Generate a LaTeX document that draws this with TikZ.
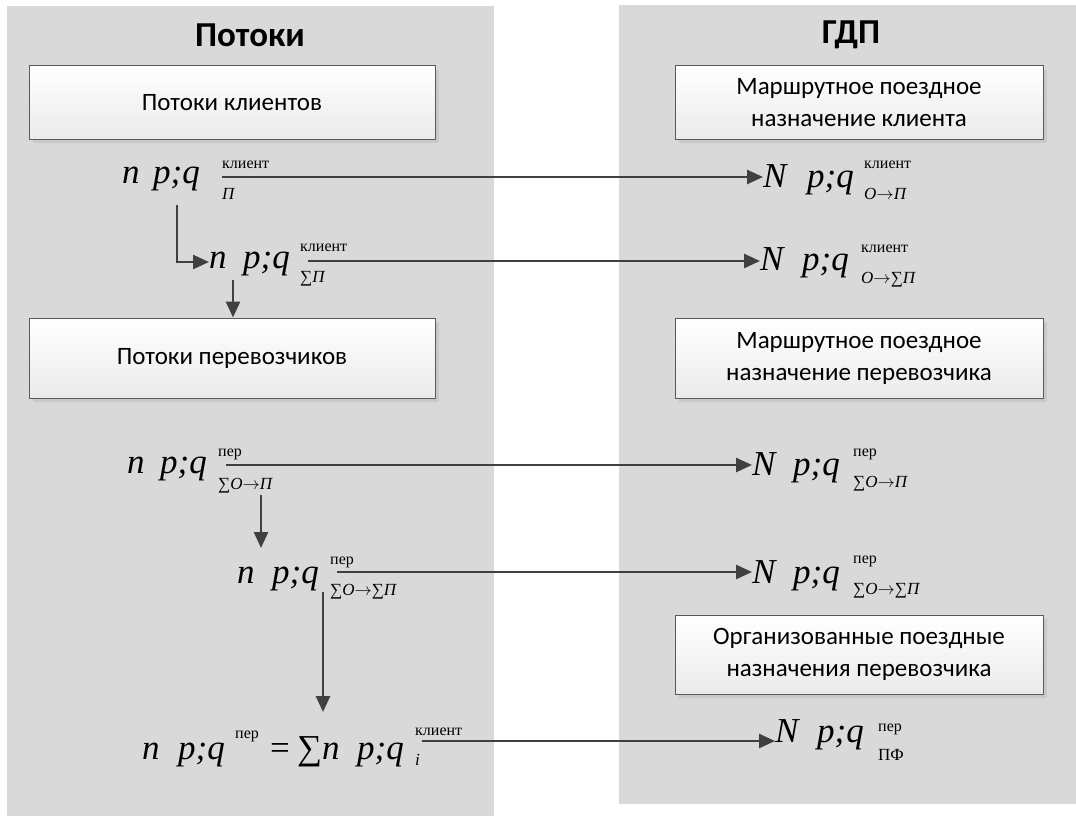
\documentclass[tikz,border=0pt]{standalone}
\usepackage{fontspec}
\setmainfont{Liberation Serif}
\newfontfamily\calibri{Carlito}
\usetikzlibrary{arrows.meta}
\definecolor{panel}{HTML}{D9D9D9}
\definecolor{arrowc}{HTML}{404040}
\definecolor{boxline}{HTML}{595959}
\definecolor{shadowc}{HTML}{C8C8C8}
\newcommand\mi{\fontsize{35}{35}\selectfont\itshape}
\newcommand\scfont{\fontsize{16}{16}\selectfont}
\newcommand\sbfont{\fontsize{17}{17}\selectfont}
\newcommand\ar{\upshape$\rightarrow$}
\newcommand\scr[4]{\rlap{\smash{\raisebox{#1pt}{\scfont\upshape #2}}}\rlap{\smash{\raisebox{#3pt}{\sbfont #4}}}}
\begin{document}
\begin{tikzpicture}[x=1pt,y=-1pt,
  fm/.style={anchor=base west, inner sep=0pt, font=\mi},
  box/.style={draw=boxline, line width=1pt, top color=white, bottom color=black!8,
    preaction={fill=shadowc, transform canvas={shift={(4pt,-4pt)}}},
    align=center, font=\calibri\fontsize{25}{32}\selectfont, inner sep=0pt},
  lbox/.style={box, minimum width=406pt},
  rbox/.style={box, minimum width=368pt},
  title/.style={font=\calibri\bfseries\fontsize{35}{40}\selectfont, inner sep=0pt},
  arr/.style={draw=arrowc, line width=2.6pt, -{Triangle[length=16pt,width=14pt]}}]
\useasboundingbox (0,0) rectangle (1076,816);
% panels
\fill[panel] (7,6) rectangle (494,816);
\fill[panel] (619,5) rectangle (1076,804);
% titles
\node[title] (T1) at (250,35) {Потоки};
\node[title] (T2) at (851,35) {ГДП};
% boxes
\node[lbox, minimum height=73pt] (B1) at (232,102.5) {Потоки клиентов};
\node[lbox, minimum height=80pt] (B2) at (232,358) {Потоки перевозчиков};
\node[rbox, minimum height=73pt] (C1) at (859,102.5) {Маршрутное поездное\\назначение клиента};
\node[rbox, minimum height=80pt] (C2) at (859,358) {Маршрутное поездное\\назначение перевозчика};
\node[rbox, minimum height=79pt] (C3) at (859,654.5) {Организованные поездные\\назначения перевозчика};
% left formulas
\node[fm] (L1) at (122,183) {\makebox[31pt][l]{n}\makebox[69pt][l]{p;q}\scr{15}{клиент}{-16}{\itshape П}};
\node[fm] (L2) at (209,268) {\makebox[34pt][l]{n}\makebox[57pt][l]{p;q}\scr{17}{клиент}{-14}{\upshape∑\itshape П}};
\node[fm] (L3) at (127,473) {\makebox[33pt][l]{n}\makebox[58pt][l]{p;q}\scr{17}{пер}{-16}{\upshape∑\itshape O\ar\itshape П}};
\node[fm] (L4) at (237,583) {\makebox[35pt][l]{n}\makebox[58pt][l]{p;q}\scr{19}{пер}{-12}{\upshape∑\itshape O\ar\upshape∑\itshape П}};
\node[fm] (L5) at (142,759) {\makebox[36pt][l]{n}\makebox[57pt][l]{p;q}\makebox[35pt][l]{\raisebox{21pt}{\scfont\upshape пер}}\makebox[27pt][l]{\upshape =}\makebox[25pt][l]{\upshape ∑}\makebox[35pt][l]{n}\makebox[58pt][l]{p;q}\scr{24}{клиент}{-6}{\itshape i}};
% right formulas
\node[fm] (R1) at (763,187) {\makebox[44pt][l]{N}\makebox[57pt][l]{p;q}\scr{19}{клиент}{-12}{\itshape O\ar\itshape П}};
\node[fm] (R2) at (760,270) {\makebox[42pt][l]{N}\makebox[59pt][l]{p;q}\scr{18}{клиент}{-13}{\itshape O\ar\upshape∑\itshape П}};
\node[fm] (R3) at (752,475) {\makebox[41pt][l]{N}\makebox[60pt][l]{p;q}\scr{19}{пер}{-12}{\upshape∑\itshape O\ar\itshape П}};
\node[fm] (R4) at (752,583) {\makebox[41pt][l]{N}\makebox[60pt][l]{p;q}\scr{20}{пер}{-11}{\upshape∑\itshape O\ar\upshape∑\itshape П}};
\node[fm] (R5) at (775,742) {\makebox[42pt][l]{N}\makebox[61pt][l]{p;q}\scr{11}{пер}{-18}{\upshape ПФ}};
% connector start points
\coordinate (s1) at (222,177);
\coordinate (s2) at (308,261);
\coordinate (s3) at (226,465);
\coordinate (s4) at (337,572);
\coordinate (s5) at (422,741);
\coordinate (e1) at (177,205);
\coordinate (v1) at (233,280);
\coordinate (v2s) at (261,495);
\coordinate (v2e) at (261,548);
\coordinate (v3s) at (323,592);
\coordinate (v3e) at (323,712);
% connectors
\draw[arr] (s1) -- (s1 -| R1.west);
\draw[arr] (s2) -- (s2 -| R2.west);
\draw[arr] (s3) -- (s3 -| R3.west);
\draw[arr] (s4) -- (s4 -| R4.west);
\draw[arr] (s5) -- (s5 -| R5.west);
\draw[arr] (e1) |- (L2.west |- 0,262);
\draw[arr] (v1) -- (v1 |- B2.north);
\draw[arr] (v2s) -- (v2e);
\draw[arr] (v3s) -- (v3e);
\end{tikzpicture}
\end{document}
